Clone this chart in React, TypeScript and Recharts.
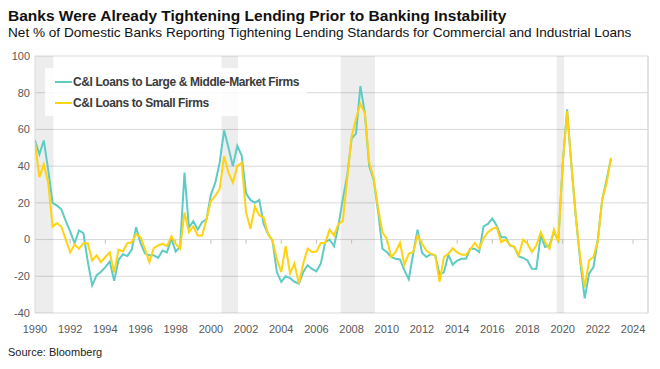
import React from "react";
import {
  LineChart,
  Line,
  XAxis,
  YAxis,
  CartesianGrid,
  ReferenceArea,
  ReferenceLine,
  Legend,
} from "recharts";

// quarterly survey readings, 1990 Q1 through 2022 Q4
const largeMiddleMarket = [
  54, 46.5, 54, 38, 20, 18.5, 16.5, 10, 4.5, -2, 5, 3.5, -12, -25, -19.5, -17.5,
  -15, -12, -22.5, -11, -8, -9, -5.5, 6.7, -2, -7.5, -8.6, -8.6, -10, -6, -7, 0.5,
  -6.5, -4, 36.5, 6.5, 10, 5.5, 9.5, 11, 24.5, 31, 42, 59.5, 50, 40, 51, 45.8,
  25, 21.6, 20, 21.6, 8.5, 3, -0.5, -17.7, -23, -20, -21, -23, -24, -17.7, -14, -16,
  -17.3, -13, -1.4, 0, -3.6, 7.6, 22, 35, 55, 57.7, 83.6, 69, 40, 32.8, 15.7, -5,
  -6.8, -9.5, -10.5, -10.8, -16.8, -21.6, -7.7, 5.4, -7.2, -9.5, -8, -8.6, -19, -17.7, -8.3, -13.7,
  -11.4, -10.5, -10.5, -5, -5, -6.8, 7.2, 8.5, 11.5, 7.6, 1.3, 1.3, -3.2, -4, -9.2, -10,
  -11.4, -15.9, -16, 2.2, -4, -3.2, 4.3, -0.5, 41, 71, 40, 12, -12, -32, -18.6, -15,
  0.4, 22, 32.8, 44.5,
];

const smallFirms = [
  53, 34, 41, 31, 7, 9, 7, 0, -7, -2.7, -5, -2, -2, -11.5, -8.6, -12.3,
  -9.5, -7, -18, -5.5, -6.5, -2, -1.5, 3, 1.3, -5, -12.3, -4.7, -3.2, -2.3, -3.6, 1.8,
  -2.3, -5, 14.8, 4, 7.2, 2.2, 2.2, 11, 21, 23.8, 27.7, 45.4, 36.5, 31, 40, 41.8,
  14.8, 5.8, 18, 13.3, 12, 3, -0.5, -10.5, -17.7, -3.6, -18.6, -13, -24, -13, -5, -6.8,
  -6.5, -1.8, -1.8, 5.4, 2.2, 8.5, 10, 33, 56, 66, 74, 69, 42, 33.7, 17.5, 4,
  0.4, -9.5, -6.8, -1.8, -13.7, -7.7, -6.8, 2.2, -2.3, -6, -7.7, -8.6, -23, -9.5, -7.7, -4.7,
  -7, -8.3, -8.3, -5.4, -1.8, -5, 0.7, 4, 5.8, 6.7, -1.4, 0, -2.9, -4, -8.6, 0,
  -2.3, -6.8, -3.2, 4, -1.4, -5, 5.4, -1.4, 41, 70, 40, 12, -10, -26, -11.4, -9.5,
  -0.5, 22, 31, 44.5,
];

const firstYear = 1990;
const quarterDates = largeMiddleMarket.map((_, i) => firstYear + i / 4);

// recession shading (start, end) in fractional years
const recessions: [number, number][] = [
  [1990, 1991.05],
  [2000.6, 2001.55],
  [2007.38, 2009.33],
  [2019.66, 2020.09],
];

const yearTicks = [
  1990, 1992, 1994, 1996, 1998, 2000, 2002, 2004, 2006, 2008, 2010, 2012, 2014,
  2016, 2018, 2020, 2022, 2024,
];
const valueTicks = [-40, -20, 0, 20, 40, 60, 80, 100];
const xMax = 2024.85;

const seriesNames = {
  large: "C&I Loans to Large & Middle-Market Firms",
  small: "C&I Loans to Small Firms",
};

const COLORS = {
  teal: "#5ECBC6",
  yellow: "#FFD30F",
  grid: "#D9D9D9",
  label: "#595959",
};

const FONT = "'Liberation Sans', Arial, sans-serif";

const data = quarterDates.map((t, i) => ({
  t,
  large: largeMiddleMarket[i],
  small: smallFirms[i],
}));

function LegendBox() {
  const rows = [
    { key: "large", color: COLORS.teal },
    { key: "small", color: COLORS.yellow },
  ] as const;
  return (
    <div
      style={{
        background: "rgba(255,255,255,0.85)",
        padding: "3px 8px 3px 10px",
        fontFamily: FONT,
      }}
    >
      {rows.map((r) => (
        <div key={r.key} style={{ display: "flex", alignItems: "center", height: 21 }}>
          <span style={{ display: "inline-block", width: 17, height: 2, background: r.color }} />
          <span
            style={{
              marginLeft: 1,
              fontSize: 12,
              fontWeight: 700,
              letterSpacing: -0.4,
              color: "#3a3a3a",
            }}
          >
            {seriesNames[r.key]}
          </span>
        </div>
      ))}
    </div>
  );
}

export default function App() {
  return (
    <div style={{ position: "absolute", left: 0, top: 0, width: 660, height: 369, background: "#fff" }}>
      <div
        style={{
          position: "absolute",
          left: 8,
          top: 7,
          fontFamily: FONT,
          fontWeight: 700,
          fontSize: 15.5,
          color: "#111",
          whiteSpace: "nowrap",
        }}
      >
        Banks Were Already Tightening Lending Prior to Banking Instability
      </div>
      <div
        style={{
          position: "absolute",
          left: 8,
          top: 25,
          fontFamily: FONT,
          fontSize: 13.6,
          color: "#111",
          whiteSpace: "nowrap",
        }}
      >
        Net % of Domestic Banks Reporting Tightening Lending Standards for Commercial and Industrial Loans
      </div>
      <div
        style={{
          position: "absolute",
          left: 8,
          top: 346,
          fontFamily: FONT,
          fontSize: 11,
          color: "#222",
          whiteSpace: "nowrap",
        }}
      >
        Source: Bloomberg
      </div>

      <div style={{ position: "absolute", left: 0, top: 0 }}>
        <LineChart
          width={660}
          height={369}
          data={data}
          margin={{ top: 56, right: 12, left: 0, bottom: 26 }}
        >
          <CartesianGrid stroke={COLORS.grid} vertical={false} />
          {recessions.map(([a, b]) => (
            <ReferenceArea
              key={a}
              x1={a}
              x2={b}
              y1={-40}
              y2={100}
              fill="#000"
              fillOpacity={0.07}
              stroke="none"
              ifOverflow="hidden"
            />
          ))}
          <ReferenceLine x={firstYear} stroke={COLORS.grid} />
          <ReferenceLine x={xMax} stroke={COLORS.grid} strokeWidth={1.5} />
          {yearTicks.slice(1).map((yr) => (
            <ReferenceLine
              key={yr}
              segment={[
                { x: yr, y: 0 },
                { x: yr, y: -2.2 },
              ]}
              stroke="#BFBFBF"
              ifOverflow="visible"
            />
          ))}
          <XAxis
            dataKey="t"
            type="number"
            domain={[firstYear, xMax]}
            ticks={yearTicks}
            interval={0}
            allowDataOverflow
            axisLine={false}
            tickLine={false}
            tickSize={0}
            tickMargin={12}
            height={30}
            tick={{ fill: COLORS.label, fontSize: 11, fontFamily: FONT }}
          />
          <YAxis
            type="number"
            domain={[-40, 100]}
            ticks={valueTicks}
            interval={0}
            axisLine={false}
            tickLine={false}
            tickSize={0}
            tickMargin={5}
            width={35}
            tick={{ fill: COLORS.label, fontSize: 11, fontFamily: FONT }}
          />
          <Legend
            layout="horizontal"
            verticalAlign="middle"
            align="center"
            wrapperStyle={{ left: 45, top: 68, width: "auto" }}
            content={() => <LegendBox />}
          />
          <Line
            dataKey="large"
            name={seriesNames.large}
            stroke={COLORS.teal}
            strokeWidth={2}
            dot={false}
            isAnimationActive={false}
          />
          <Line
            dataKey="small"
            name={seriesNames.small}
            stroke={COLORS.yellow}
            strokeWidth={2}
            dot={false}
            isAnimationActive={false}
          />
        </LineChart>
      </div>
    </div>
  );
}
